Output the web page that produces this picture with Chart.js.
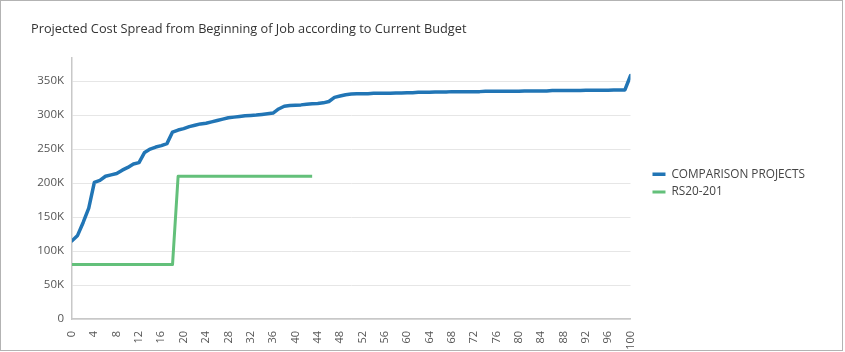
<!DOCTYPE html>
<html>
<head>
<meta charset="utf-8">
<script src="https://cdn.jsdelivr.net/npm/chart.js@4"></script>
<style>
    body { margin: 0; background: #fff; }
    #frame {
        position: absolute; left: 0; top: 0;
        width: 841px; height: 349px;
        border: 1px solid #b3b3b3;
    }
</style>
</head>
<body>
<div id="frame"><canvas id="costChart"></canvas></div>
<script>
// values, one per period 0..100
let comparisonProjects = [
    115000, 123000, 142000, 163000, 201000, 204000, 210000, 212000, 214000, 219000,
    223000, 228000, 230000, 245000, 250000, 253000, 255000, 258000, 275000, 278000,
    280000, 283000, 285000, 287000, 288000, 290000, 292000, 294000, 296000, 297000,
    298000, 299000, 299500, 300000, 301000, 302000, 303000, 309000, 313000, 314000,
    314500, 315000, 316000, 316500, 317000, 318000, 320000, 326000, 328000, 330000,
    331000, 331500, 331500, 331500, 332000, 332000, 332000, 332000, 332500, 332500,
    333000, 333000, 333500, 333500, 333500, 334000, 334000, 334000, 334500, 334500,
    334500, 334500, 334500, 334500, 335000, 335000, 335000, 335000, 335000, 335000,
    335000, 335500, 335500, 335500, 335500, 335500, 336000, 336000, 336000, 336000,
    336000, 336000, 336500, 336500, 336500, 336500, 336500, 337000, 337000, 337000,
    358000
];
let rs20201 = [
    80000, 80000, 80000, 80000, 80000, 80000, 80000, 80000, 80000, 80000,
    80000, 80000, 80000, 80000, 80000, 80000, 80000, 80000, 80000, 210000,
    210000, 210000, 210000, 210000, 210000, 210000, 210000, 210000, 210000, 210000,
    210000, 210000, 210000, 210000, 210000, 210000, 210000, 210000, 210000, 210000,
    210000, 210000, 210000, 210000
];
let seriesNames = ["COMPARISON PROJECTS", "RS20-201"];
let seriesColors = ["#2175B5", "#63C07A"];
let yTickValues = [0, 50000, 100000, 150000, 200000, 250000, 300000, 350000];

function toPoints(values) {
    return values.map((v, i) => ({ x: i, y: v }));
}

let fontFamily = "'Segoe UI', 'Open Sans', sans-serif";

// move the legend a bit away from the plot and down to the middle of it
const legendPlacement = {
    id: 'legendPlacement',
    beforeDraw(chart) {
        let lg = chart.legend;
        let w = lg.right - lg.left;
        let h = lg.bottom - lg.top;
        lg.left = chart.chartArea.right + 16;
        lg.right = lg.left + w;
        lg.top = chart.chartArea.top + 105;
        lg.bottom = lg.top + h;
    }
};

const costChart = new Chart(document.getElementById("costChart"), {
    type: 'line',
    data: {
        datasets: [{
            label: seriesNames[0],
            data: toPoints(comparisonProjects),
            borderColor: seriesColors[0],
            backgroundColor: seriesColors[0],
            borderWidth: 3.5,
            pointRadius: 0,
            borderJoinStyle: 'round',
            borderCapStyle: 'round',
            tension: 0
        }, {
            label: seriesNames[1],
            data: toPoints(rs20201),
            borderColor: seriesColors[1],
            backgroundColor: seriesColors[1],
            borderWidth: 3,
            pointRadius: 0,
            borderJoinStyle: 'round',
            tension: 0
        }]
    },
    plugins: [legendPlacement],
    options: {
        responsive: true,
        maintainAspectRatio: false,
        animation: false,
        layout: {
            padding: { left: 30, right: 43, top: 0, bottom: 0 }
        },
        plugins: {
            tooltip: { enabled: false },
            title: {
                display: true,
                text: "Projected Cost Spread from Beginning of Job according to Current Budget",
                align: 'start',
                color: '#333333',
                font: { family: fontFamily, size: 12.75, weight: 'normal' },
                padding: { top: 21, bottom: 20 }
            },
            legend: {
                position: 'right',
                align: 'start',
                labels: {
                    usePointStyle: true,
                    pointStyle: 'line',
                    pointStyleWidth: 13,
                    boxHeight: 8,
                    padding: 6,
                    color: '#444444',
                    font: { family: fontFamily, size: 11.8 }
                }
            }
        },
        scales: {
            x: {
                type: 'linear',
                min: 0,
                max: 100,
                grid: { display: false },
                border: { display: true, color: '#c8c8c8', width: 1.5 },
                afterFit: (scale) => { scale.height = 31; },
                ticks: {
                    stepSize: 4,
                    autoSkip: false,
                    minRotation: 90,
                    maxRotation: 90,
                    padding: 4,
                    color: '#555555',
                    font: { family: fontFamily, size: 11 }
                }
            },
            y: {
                min: 0,
                max: 385000,
                afterFit: (scale) => { scale.width = 41; },
                afterBuildTicks: (scale) => {
                    scale.ticks = yTickValues.map((v) => ({ value: v }));
                },
                grid: { color: '#e6e6e6', drawTicks: false },
                border: { display: true, color: '#c8c8c8', width: 1.5 },
                ticks: {
                    padding: 8,
                    color: '#555555',
                    font: { family: fontFamily, size: 11.5 },
                    callback: (v) => v == 0 ? "0" : (v / 1000) + "K"
                }
            }
        }
    }
});
</script>
</body>
</html>
